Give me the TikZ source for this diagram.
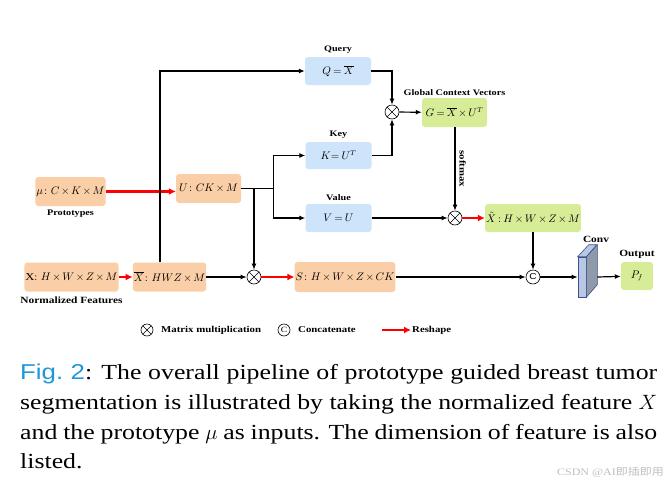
\documentclass[tikz,border=0pt]{standalone}
\usepackage{amsmath,amssymb}
\usepackage{fontspec}
\setmainfont[FakeStretch=1.2]{Liberation Serif}
\setsansfont[FakeStretch=1.2]{Liberation Sans}
\newfontfamily\cjkfont[FakeStretch=1.2]{Noto Sans CJK SC}
\usetikzlibrary{positioning,calc}
\usetikzlibrary{arrows.meta}
\definecolor{BoxOrange}{RGB}{250,206,166}
\definecolor{BoxBlue}{RGB}{206,228,250}
\definecolor{BoxGreen}{RGB}{214,236,150}
\definecolor{ConvFront}{RGB}{184,200,228}
\definecolor{ConvSide}{RGB}{142,154,170}
\definecolor{ConvEdge}{RGB}{60,80,140}
\definecolor{FigBlue}{RGB}{30,150,220}
\newcommand\tightmath{\medmuskip=2.5mu\relax\thickmuskip=3.5mu\relax}
\tikzset{
  box/.style={rounded corners=3pt,inner sep=1pt,minimum height=29pt,font=\fontsize{10.5}{12}\selectfont,execute at begin node=\tightmath},
  obox/.style={box,fill=BoxOrange},
  bbox/.style={box,fill=BoxBlue,minimum width=66pt},
  gbox/.style={box,fill=BoxGreen},
  op/.style={circle,draw=black,fill=white,inner sep=0pt,minimum size=14pt,line width=0.6pt},
  mul/.style={op,path picture={\draw[line width=0.6pt]($(path picture bounding box.center)+(45:7pt)$)--($(path picture bounding box.center)+(225:7pt)$);
    \draw[line width=0.6pt]($(path picture bounding box.center)+(135:7pt)$)--($(path picture bounding box.center)+(315:7pt)$);}},
  lbl/.style={font=\fontsize{8.5}{10}\selectfont\bfseries,inner sep=1pt},
  flow/.style={draw=black,line width=1.2pt,-{Latex[length=6pt,width=5pt]}},
  reshape/.style={draw=red,line width=2.4pt,-{Latex[length=7pt,width=7pt]}},
}

\begin{document}
\begin{tikzpicture}[x=1pt,y=-1pt]
\useasboundingbox (0,0) rectangle (670,485);
% boxes
\node[obox,minimum width=91pt] (xin) at (71.5,277) {$\mathrm{X}\colon H\times W\times Z\times M$};
\node[obox,minimum width=65pt] (xbar) at (169.5,277) {$\overline{X}\colon HWZ\times M$};
\node[obox,minimum width=65pt] (mu) at (70.5,191.5) {$\mu\colon C\times K\times M$};
\node[obox,minimum width=65pt] (u) at (208.5,188.5) {$U\colon CK\times M$};
\node[obox,minimum width=100pt,minimum height=30pt] (s) at (345,277) {$S\colon H\times W\times Z\times CK$};
\node[bbox,minimum height=28pt] (q) at (338,71) {$Q=\overline{X}$};
\node[bbox,minimum height=27pt] (k) at (338.5,155.5) {$K\!=U^{T}$};
\node[bbox,minimum height=28pt] (v) at (338.5,218) {$V=U$};
\node[gbox,minimum width=65pt] (g) at (454.5,112.5) {$G=\overline{X}\times U^{T}$};
\node[gbox,minimum width=94pt,minimum height=28pt] (xt) at (533,218) {$\tilde{X}:H\times W\times Z\times M$};
\node[gbox,minimum width=32pt,minimum height=28pt] (out) at (637,276) {$P_f$};
% operators
\node[mul] (m1) at (254,277) {};
\node[mul] (m2) at (392,112) {};
\node[mul] (m3) at (455,218) {};
\node[op,font=\sffamily\fontsize{8.5}{9}\selectfont] (cat) at (533,277) {C};
% conv block
\node[draw=ConvEdge,fill=ConvFront,line width=0.6pt,minimum width=8pt,minimum height=40pt,inner sep=0pt] (conv) at (582,277) {};
\draw[draw=ConvEdge,fill=ConvSide,line width=0.6pt] (conv.north east) -- ++(11,-12) -- ++(0,40) -- (conv.south east) -- cycle;
\draw[draw=ConvEdge,fill=ConvFront,line width=0.6pt] (conv.north west) -- ++(11,-12) -- ++(8,0) -- (conv.north east) -- cycle;
\coordinate (convr) at ($(conv.east)+(11,0)$);
% labels
\node[lbl,above=2pt of q] (ql) {Query};
\node[lbl,above=2pt of k] (kl) {Key};
\node[lbl,above=2pt of v] (vl) {Value};
\node[lbl,above=1pt of g] (gl) {Global Context Vectors};
\node[lbl,below=3pt of mu] (mul) {Prototypes};
\node[lbl,font=\fontsize{9.5}{11}\selectfont\bfseries,below=4pt of xin] (xl) {Normalized Features};
\node[lbl,font=\fontsize{9.5}{11}\selectfont\bfseries] (cl) at (596,239) {Conv};
\node[lbl,font=\fontsize{9.5}{11}\selectfont\bfseries,above=2pt of out] (ol) {Output};
% connectors
\draw[reshape] (xin) -- (xbar);
\draw[reshape] (mu) -- (u.west|-mu);
\draw[flow] ([xshift=-9.5pt]xbar.north) |- (q.west);
\draw[flow] (xbar) -- (m1);
\draw[reshape] (m1) -- (s);
\draw[flow] (u.east) -- ++(32,0) coordinate (br) |- (k.west);
\draw[flow] (br) |- (v.west);
\draw[flow] (u.east-|m1) -- (m1.north);
\draw[flow] (q.east) -| (m2.north);
\draw[flow] (k.east) -| (m2.south);
\draw[flow] (m2) -- (g);
\draw[flow] (g.south-|m3) -- (m3.north) node[midway,lbl,font=\fontsize{9}{10}\selectfont\bfseries,rotate=-90,anchor=south,inner sep=4pt] {softmax};
\draw[flow] (v) -- (m3);
\draw[reshape] (m3) -- (xt);
\draw[flow] (xt) -- (cat);
\draw[flow] (s) -- (cat);
\draw[flow] (cat) -- (conv);
\draw[flow] (convr) -- (out);
% legend
\node[mul,minimum size=12pt] (lm) at (147,330) {};
\node[lbl,font=\fontsize{9}{10}\selectfont\bfseries,anchor=west] (lmt) at (160,330) {Matrix multiplication};
\node[op,minimum size=12pt,font=\fontsize{8}{8}\selectfont] (lc) at (284,330) {C};
\node[lbl,font=\fontsize{9}{10}\selectfont\bfseries,anchor=west] (lct) at (297,330) {Concatenate};
\coordinate (ra) at (382,330);
\node[lbl,font=\fontsize{9}{10}\selectfont\bfseries,anchor=west] (lrt) at (411,330) {Reshape};
\draw[reshape] (ra) -- (lrt.west);
% caption
\node[anchor=north west,inner sep=0pt,text width=637pt,align=justify,font=\fontsize{21.5}{29.7}\selectfont] (cap) at (20,364)
  {{\sffamily\color{FigBlue}Fig.~2}: The overall pipeline of prototype guided breast tumor segmentation is illustrated by taking the normalized feature $X$ and the prototype $\mu$ as inputs. The dimension of feature is also listed.};
\node[anchor=east,text=black!25,font=\fontsize{10}{12}\selectfont,inner sep=0pt] (wm) at (664,472) {CSDN @AI{\cjkfont 即插即用}};
\end{tikzpicture}
\end{document}
